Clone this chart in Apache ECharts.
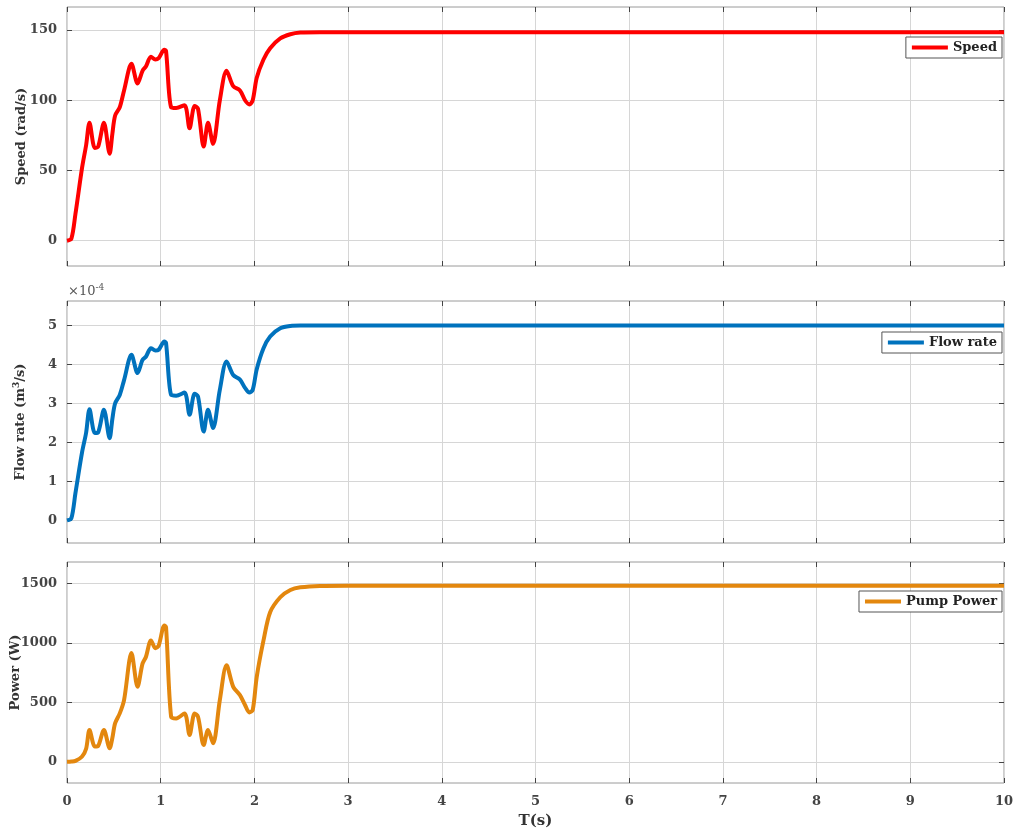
<!DOCTYPE html>
<html>
<head>
<meta charset="utf-8">
<script src="https://cdn.jsdelivr.net/npm/echarts@6/dist/echarts.min.js"></script>
<style>
  html, body { margin: 0; padding: 0; background: #fff; }
  #chart { width: 1016px; height: 836px; }
</style>
</head>
<body>
<div id="chart"></div>
<script>
  // time samples (s), shared by the three curves
  var timeS = [0, 0.047, 0.09, 0.161, 0.204, 0.24, 0.297, 0.333, 0.394, 0.455, 0.484, 0.513, 0.563, 0.609,
    0.688, 0.753, 0.806, 0.842, 0.896, 0.943, 0.978, 1.039, 1.057, 1.111, 1.165, 1.254, 1.308, 1.362, 1.398,
    1.459, 1.505, 1.559, 1.631, 1.703, 1.774, 1.846, 1.9, 1.946, 1.982, 2.025, 2.097, 2.168, 2.276, 2.384,
    2.491, 2.7, 3, 10];
  // speed (rad/s)
  var speedVals = [0, 1.5, 19, 52, 68, 84, 66, 67, 84, 62, 76, 89, 95, 107,
    126, 112, 121, 124, 131, 129, 130, 136, 135, 95, 94.5, 96.5, 80, 96, 94,
    67, 84, 69, 100, 121, 110, 107, 100, 97, 100, 116, 129, 137, 144, 147,
    148.2, 148.5, 148.5, 148.5];
  // flow rate (x 1e-4 m^3/s)
  var flowVals = [0, 0.06, 0.7, 1.75, 2.25, 2.85, 2.24, 2.26, 2.84, 2.11, 2.6, 3.0, 3.22, 3.6,
    4.25, 3.78, 4.12, 4.2, 4.42, 4.36, 4.38, 4.59, 4.55, 3.22, 3.2, 3.28, 2.71, 3.25, 3.18,
    2.28, 2.84, 2.37, 3.35, 4.08, 3.73, 3.61, 3.4, 3.28, 3.35, 3.88, 4.42, 4.72, 4.93, 4.99,
    5.0, 5.0, 5.0, 5.0];
  // pump power (W)
  var powerVals = [0, 2, 8, 45, 110, 268, 128, 134, 268, 114, 200, 323, 407, 519,
    914, 630, 825, 881, 1020, 955, 975, 1146, 1132, 379, 365, 407, 226, 407, 379,
    142, 268, 156, 519, 811, 630, 560, 477, 415, 435, 714, 1020, 1257, 1383, 1444,
    1466, 1478, 1480, 1480];

  var speedTicks = [0, 50, 100, 150];
  var flowTicks = [0, 1, 2, 3, 4, 5];
  var powerTicks = [0, 500, 1000, 1500];

  function pairs(vals) {
    return timeS.map(function (t, i) { return [t, vals[i]]; });
  }

  var FONT = '"DejaVu Serif", serif';
  var gridColor = '#d6d6d6';
  var tickColor = '#444';

  var grids = [
    { left: 67, right: 12, top: 7, height: 259 },
    { left: 67, right: 12, top: 301, height: 242 },
    { left: 67, right: 12, top: 562, height: 221 }
  ];
  grids.forEach(function (g) {
    g.show = true; g.borderColor = '#9a9a9a'; g.borderWidth = 1; g.backgroundColor = '#fff';
    g.containLabel = false; g.outerBoundsMode = 'none';
  });

  function plain(v) { return String(v); }

  function xBottom(i, showLabels) {
    var ax = {
      gridIndex: i, type: 'value', min: 0, max: 10, interval: 1, position: 'bottom',
      axisLine: { show: false, onZero: false },
      axisTick: { show: true, inside: true, length: 5, lineStyle: { color: tickColor } },
      axisLabel: { show: showLabels, formatter: plain, fontFamily: FONT, fontWeight: 'bold', fontSize: 13, color: '#444', margin: 12 },
      splitLine: { show: true, lineStyle: { color: gridColor } }
    };
    if (showLabels) {
      ax.name = 'T(s)';
      ax.nameLocation = 'middle';
      ax.nameGap = 31;
      ax.nameMoveOverlap = false;
      ax.nameTextStyle = { fontFamily: FONT, fontWeight: 'bold', fontSize: 15, color: '#333' };
    }
    return ax;
  }
  function xTop(i) {
    return {
      gridIndex: i, type: 'value', min: 0, max: 10, interval: 1, position: 'top',
      axisLine: { show: false, onZero: false },
      axisTick: { show: true, inside: true, length: 5, lineStyle: { color: tickColor } },
      axisLabel: { show: false }, splitLine: { show: false }
    };
  }
  function yLeft(i, min, max, ticks, name, gap) {
    return {
      gridIndex: i, type: 'value', min: min, max: max, position: 'left',
      name: name, nameLocation: 'middle', nameGap: gap, nameMoveOverlap: false,
      nameTextStyle: {
        fontFamily: FONT, fontWeight: 'bold', fontSize: 13, color: '#333',
        rich: {
          a: { fontFamily: FONT, fontWeight: 'bold', fontSize: 13, color: '#333' },
          b: { fontFamily: FONT, fontWeight: 'bold', fontSize: 9, color: '#333', padding: [0, 0, 8, 0] }
        }
      },
      axisLine: { show: false, onZero: false },
      axisTick: { show: true, inside: true, length: 5, customValues: ticks, lineStyle: { color: tickColor } },
      axisLabel: { customValues: ticks, formatter: plain, fontFamily: FONT, fontWeight: 'bold', fontSize: 13, color: '#444', margin: 10 },
      splitLine: { show: true, lineStyle: { color: gridColor } }
    };
  }
  function yRight(i, min, max, ticks) {
    return {
      gridIndex: i, type: 'value', min: min, max: max, position: 'right',
      axisLine: { show: false, onZero: false },
      axisTick: { show: true, inside: true, length: 5, customValues: ticks, lineStyle: { color: tickColor } },
      axisLabel: { show: false }, splitLine: { show: false }
    };
  }

  function legendFor(name, top) {
    return {
      data: [name], right: 14, top: top, orient: 'vertical',
      icon: 'rect', itemWidth: 36, itemHeight: 4, itemGap: 0,
      padding: [4, 5, 4, 6], borderColor: '#555', borderWidth: 1, backgroundColor: '#fff',
      textStyle: { fontFamily: FONT, fontWeight: 'bold', fontSize: 13, color: '#222' }
    };
  }

  function lineSeries(name, vals, idx, color) {
    return {
      name: name, type: 'line', xAxisIndex: idx, yAxisIndex: idx,
      data: pairs(vals), showSymbol: false, smooth: 0.3,
      lineStyle: { color: color, width: 4 }, itemStyle: { color: color }
    };
  }

  var chart = echarts.init(document.getElementById('chart'), null, { renderer: 'canvas' });
  chart.setOption({
    animation: false,
    backgroundColor: '#fff',
    grid: grids,
    xAxis: [xBottom(0, false), xBottom(1, false), xBottom(2, true), xTop(0), xTop(1), xTop(2)],
    yAxis: [
      yLeft(0, -18, 166.4, speedTicks, 'Speed (rad/s)', 39),
      yLeft(1, -0.58, 5.63, flowTicks, '{a|Flow rate (m}{b|3}{a|/s)}', 38),
      yLeft(2, -178, 1679, powerTicks, 'Power (W)', 45),
      yRight(0, -18, 166.4, speedTicks),
      yRight(1, -0.58, 5.63, flowTicks),
      yRight(2, -178, 1679, powerTicks)
    ],
    legend: [legendFor('Speed', 37), legendFor('Flow rate', 332), legendFor('Pump Power', 591)],
    graphic: [{
      type: 'text', left: 68, top: 283,
      style: {
        text: '{a|×10}{b|-4}',
        rich: {
          a: { fontFamily: FONT, fontSize: 13, fill: '#555' },
          b: { fontFamily: FONT, fontSize: 9, fill: '#555', padding: [0, 0, 8, 0] }
        }
      }
    }],
    series: [
      lineSeries('Speed', speedVals, 0, '#ff0000'),
      lineSeries('Flow rate', flowVals, 1, '#0072bd'),
      lineSeries('Pump Power', powerVals, 2, '#e3870e')
    ]
  });
</script>
</body>
</html>
